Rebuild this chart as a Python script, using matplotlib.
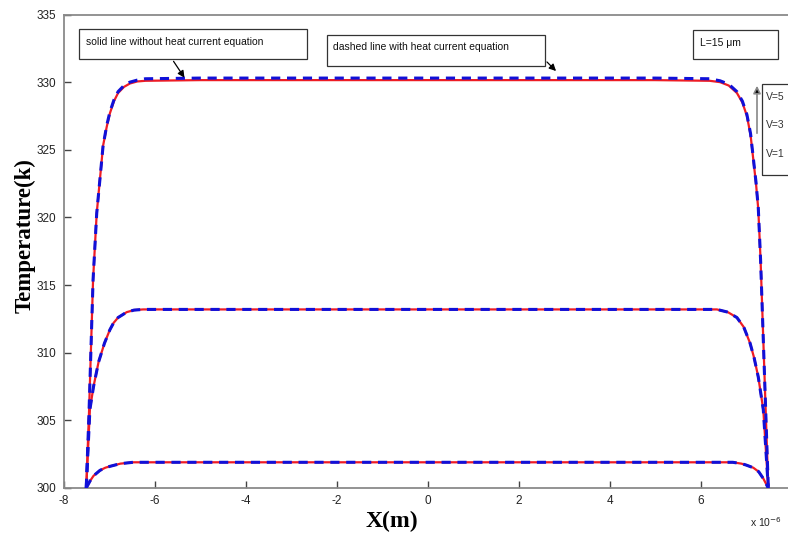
import numpy as np
import matplotlib.pyplot as plt
from matplotlib.patches import Rectangle

plt.rcParams["axes.unicode_minus"] = False

# Position along the device (in units of 1e-6 m) and temperature (K)
x_high = [-7.50, -7.44, -7.39, -7.35, -7.27, -7.13, -7.05, -6.98, -6.89, -6.80, -6.67, -6.54, -6.38, -6.20,
          -5.0, 0.0, 5.0, 6.20, 6.43, 6.62, 6.80, 6.92, 7.02, 7.10, 7.16, 7.22, 7.27, 7.32, 7.40, 7.49]
T_high_solid = [300.0, 305.5, 311.0, 315.4, 320.3, 325.3, 326.7, 327.7, 328.6, 329.2, 329.65, 329.9, 330.05, 330.1,
                330.15, 330.15, 330.15, 330.1, 330.0, 329.75, 329.2, 328.5, 327.5, 326.1, 324.3, 322.5, 320.6, 316.9, 309.0, 300.0]
T_high_dashed = [300.0, 305.5, 311.0, 315.4, 320.3, 325.3, 326.8, 327.8, 328.7, 329.3, 329.75, 330.0, 330.15, 330.25,
                 330.3, 330.3, 330.3, 330.25, 330.1, 329.85, 329.3, 328.6, 327.6, 326.2, 324.4, 322.6, 320.7, 316.9, 309.0, 300.0]

x_mid = [-7.50, -7.42, -7.34, -7.23, -7.10, -6.98, -6.90, -6.80, -6.61, -6.45, -6.25,
         -5.0, 0.0, 5.0, 6.36, 6.60, 6.80, 6.95, 7.09, 7.18, 7.27, 7.38, 7.49]
T_mid_solid = [300.0, 305.8, 307.5, 309.3, 310.7, 311.7, 312.2, 312.6, 313.0, 313.15, 313.2,
               313.2, 313.2, 313.2, 313.2, 313.0, 312.6, 311.9, 310.7, 309.6, 308.2, 305.8, 300.0]
T_mid_dashed = T_mid_solid

x_low = [-7.50, -7.42, -7.34, -7.20, -7.08, -6.98, -6.75, -6.47, -5.0, 0.0, 5.0,
         6.71, 6.90, 7.00, 7.16, 7.28, 7.38, 7.49]
T_low_solid = [300.0, 300.5, 300.9, 301.3, 301.5, 301.6, 301.8, 301.9, 301.9, 301.9, 301.9,
               301.9, 301.8, 301.7, 301.5, 301.2, 300.7, 300.0]
T_low_dashed = T_low_solid

xticks = [-8, -6, -4, -2, 0, 2, 4, 6]
yticks = [300, 305, 310, 315, 320, 325, 330, 335]
voltage_labels = ["V=5", "V=3", "V=1"]

W, H = 788, 535
fig = plt.figure(figsize=(W / 100, H / 100), dpi=100)


def px(x, y):
    # pixel position -> figure fraction
    return x / W, 1 - y / H


ax = fig.add_axes([63.5 / W, 1 - 488 / H, 728 / W, 473.5 / H])

curves = [(x_high, T_high_solid, T_high_dashed),
          (x_mid, T_mid_solid, T_mid_dashed),
          (x_low, T_low_solid, T_low_dashed)]
for xs, ts, td in curves:
    ax.plot(xs, ts, color="#ee1c24", lw=1.6, zorder=2)
    ax.plot(xs, td, color="#1010d8", lw=2.2, ls=(0, (3, 2.2)), zorder=3)

ax.set_xlim(-8, 8)
ax.set_ylim(300, 335)
ax.set_xticks(xticks)
ax.set_yticks(yticks)
ax.tick_params(direction="in", length=5, width=1, colors="#444444",
               labelcolor="#222222", labelsize=8.5, pad=5)
for sp in ax.spines.values():
    sp.set_color("#8a8a8a")
    sp.set_linewidth(1.3)
for lab in ax.get_xticklabels() + ax.get_yticklabels():
    lab.set_family("Liberation Sans")

fig.text(*px(25, 236), "Temperature(k)", rotation=90, ha="center", va="center",
         family="Liberation Serif", weight="bold", fontsize=16.5)
fig.text(*px(392, 521), "X(m)", ha="center", va="center",
         family="Liberation Serif", weight="bold", fontsize=17)
fig.text(*px(750, 522), "x 10$^{-6}$", ha="left", va="center",
         family="Liberation Sans", fontsize=7.5, color="#222222")

# Note boxes
boxes = [(79, 29, 228, 30, "solid line without heat current equation", 86, 42),
         (327, 35, 218, 31, "dashed line with heat current equation", 333, 47),
         (693, 30, 85, 29, "L=15 \u03bcm", 700, 43)]
for bx, by, bw, bh, txt, tx, ty in boxes:
    x0, y1 = px(bx, by + bh)
    fig.patches.append(Rectangle((x0, y1), bw / W, bh / H, transform=fig.transFigure,
                                 fill=False, ec="#333333", lw=0.9, zorder=5))
    fig.text(*px(tx, ty), txt, ha="left", va="center", family="Liberation Sans",
             fontsize=7.5, color="#111111")

# Voltage legend box (runs off the right edge)
x0, y1 = px(762, 175)
fig.patches.append(Rectangle((x0, y1), 60 / W, 91 / H, transform=fig.transFigure,
                             fill=False, ec="#333333", lw=0.9, zorder=5))
for i, lab in enumerate(voltage_labels):
    fig.text(*px(766, 97 + 28.5 * i), lab, ha="left", va="center",
             family="Liberation Sans", fontsize=7.5, color="#333333")

arrow = dict(arrowstyle="-|>", color="black", lw=0.9, mutation_scale=10)
fig.add_artist(plt.Annotation("", xy=px(186, 80), xytext=px(172, 59),
                              xycoords="figure fraction", arrowprops=arrow))
fig.add_artist(plt.Annotation("", xy=px(558, 73), xytext=px(545, 60),
                              xycoords="figure fraction", arrowprops=arrow))
fig.add_artist(plt.Annotation("", xy=px(757, 83), xytext=px(757, 136),
                              xycoords="figure fraction",
                              arrowprops=dict(arrowstyle="-|>", color="#888888", lw=1.2,
                                              mutation_scale=11, fc="black", ec="#888888")))

fig.savefig("out.png", dpi=100)
